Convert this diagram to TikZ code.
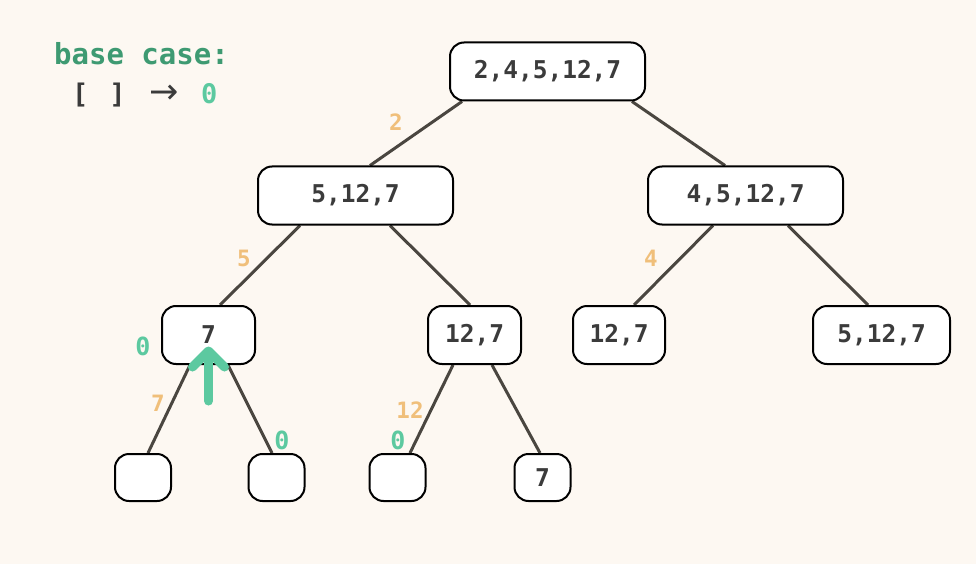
\documentclass[tikz,border=0pt]{standalone}
\usepackage{fontspec}
\setmonofont{DejaVu Sans Mono}
\newfontfamily\arrowfont{DejaVu Sans}
\usetikzlibrary{backgrounds}
\definecolor{bgc}{HTML}{FDF8F2}
\definecolor{txt}{HTML}{3B3B3B}
\definecolor{edgec}{HTML}{4A4640}
\definecolor{lab}{HTML}{F0BF7A}
\definecolor{mint}{HTML}{5CC9A0}
\definecolor{dgreen}{HTML}{3E9A72}
\begin{document}
\begin{tikzpicture}[x=1pt,y=-1pt,
  box/.style={draw=black, line width=2pt, fill=white, rounded corners=14pt,
    inner sep=0pt, text=txt, font=\fontsize{24.5}{24.5}\selectfont\ttfamily\bfseries},
  big/.style={box, minimum width=195pt, minimum height=58pt},
  mid/.style={box, minimum width=93pt, minimum height=58pt},
  leaf/.style={box, minimum width=56pt, minimum height=47pt},
  conn/.style={draw=edgec, line width=3pt},
  elab/.style={text=lab, font=\fontsize{22.5}{22.5}\selectfont\ttfamily\bfseries, inner sep=0pt},
  zlab/.style={text=mint, font=\fontsize{25}{25}\selectfont\ttfamily\bfseries, inner sep=0pt}]
\useasboundingbox (0,0) rectangle (976,564);

\node[big] (root) at (547.5,71.5) {2,4,5,12,7};
\node[big] (L) at (355.5,195.5) {5,12,7};
\node[big] (R) at (745.5,195.5) {4,5,12,7};
\node[mid] (LL) at (208.5,335) {7};
\node[mid] (LR) at (474.5,335) {12,7};
\node[mid, minimum width=92pt] (RL) at (619,335) {12,7};
\node[mid, minimum width=137pt] (RR) at (881.5,335) {5,12,7};
\node[leaf] (a) at (143,477.5) {};
\node[leaf] (b) at (276.5,477.5) {};
\node[leaf] (c) at (397.5,477.5) {};
\node[leaf] (d) at (542.5,477.5) {7};

\begin{scope}[on background layer]
\fill[bgc] (0,0) rectangle (976,564);
\draw[conn] ([xshift=-85.5pt]root.south) -- ([xshift=14.5pt]L.north);
\draw[conn] ([xshift=84.5pt]root.south) -- ([xshift=-20.5pt]R.north);
\draw[conn] ([xshift=-55.5pt]L.south) -- ([xshift=11.5pt]LL.north);
\draw[conn] ([xshift=34.5pt]L.south) -- ([xshift=-4.5pt]LR.north);
\draw[conn] ([xshift=-32.5pt]R.south) -- ([xshift=15pt]RL.north);
\draw[conn] ([xshift=42.5pt]R.south) -- ([xshift=-13.5pt]RR.north);
\draw[conn] ([xshift=-18.5pt]LL.south) -- ([xshift=5pt]a.north);
\draw[conn] ([xshift=19.5pt]LL.south) -- ([xshift=-4.5pt]b.north);
\draw[conn] ([xshift=-21.5pt]LR.south) -- ([xshift=12.5pt]c.north);
\draw[conn] ([xshift=17.5pt]LR.south) -- ([xshift=-2.5pt]d.north);
\end{scope}

\node[elab] (l2) at (396,122) {2};
\node[elab] (l5) at (244,258) {5};
\node[elab] (l4) at (651,258) {4};
\node[elab] (l7) at (158,403) {7};
\node[elab] (l12) at (410,410) {12};
\node[zlab] (z1) at (143,346) {0};
\node[zlab] (z2) at (282,440) {0};
\node[zlab] (z3) at (398,440) {0};

\draw[mint, line width=9pt, line cap=round, line join=round]
  ([yshift=-36pt]LL.south) -- ([yshift=12pt]LL.south);
\draw[mint, line width=9pt, line cap=round, line join=round]
  ([xshift=-16pt,yshift=-2pt]LL.south) -- ([yshift=14pt]LL.south) -- ([xshift=16pt,yshift=-2pt]LL.south);

\node[text=dgreen, font=\fontsize{29}{29}\selectfont\ttfamily\bfseries, inner sep=0pt, anchor=west] (title) at (54,54) {base case:};
\node[text=txt, font=\fontsize{27}{27}\selectfont\ttfamily\bfseries, inner sep=0pt, anchor=west] (rule) at (72,95)
  {[\hspace{21pt}]\hspace{24pt}{\arrowfont\mdseries\fontsize{35}{35}\selectfont →}\hspace{22pt}\textcolor{mint}{0}};
\end{tikzpicture}
\end{document}
